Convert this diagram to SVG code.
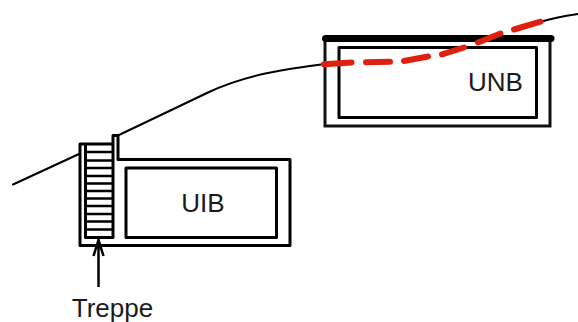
<svg xmlns="http://www.w3.org/2000/svg" width="578" height="322" viewBox="0 0 578 322">
<style>
.w{fill:none;stroke:#000;stroke-width:3;stroke-linejoin:round}
.g{fill:none;stroke:#000;stroke-width:2;stroke-linecap:round}
.t{font-family:"Liberation Sans",Arial,sans-serif;font-size:26px;fill:#1a1a1a}
</style>
<rect width="578" height="322" fill="#fff"/>
<g id="connectors">
<path class="g" d="M13 184.500L79 154"/>
<path class="g" d="M119 135L208 92.500C245 75 285 69 325 64"/>
<path class="g" d="M541 21.700C553 18 565 16 578 14"/>
<path fill="none" stroke="#000" stroke-width="2.500" d="M98.500 239V287M93.500 256L98.500 240L103.500 256"/>
</g>
<g id="uib">
<path class="w" d="M113 144H80V245.500H290V159.500H118V135.500H113V144"/>
<rect class="w" x="126" y="168" width="150.500" height="69.500"/>
<text class="t" x="203" y="211.500" text-anchor="middle">UIB</text>
</g>
<g id="treppe">
<path class="w" d="M85.500 144V237.500H113V144"/>
<path fill="none" stroke="#000" stroke-width="2.500" d="M85.500 152H113M85.500 160.500H113M85.500 168H113M85.500 176H113M85.500 183.500H113M85.500 191H113M85.500 198.500H113M85.500 206H113M85.500 214H113M85.500 221.500H113M85.500 229.500H113"/>
<text class="t" x="112.500" y="317" text-anchor="middle">Treppe</text>
</g>
<g id="unb">
<path fill="none" stroke="#111" stroke-width="3" d="M325 38V126H550V38"/>
<rect class="w" x="339" y="47.500" width="197.500" height="70"/>
<path fill="none" stroke="#000" stroke-width="7" stroke-linecap="round" d="M325.500 38.500H551"/>
<text class="t" x="495.500" y="91" text-anchor="middle">UNB</text>
</g>
<g id="red-line">
<path fill="none" stroke="#e0200f" stroke-width="6" stroke-linecap="round" d="M324 64.200L351.500 62.400M366 62.200L390 61.800M404 61L428 56.500M442 54.300L464 47.500M478 42.500L500.500 33.500M514 29.500L540.500 21.700"/>
</g>
</svg>
